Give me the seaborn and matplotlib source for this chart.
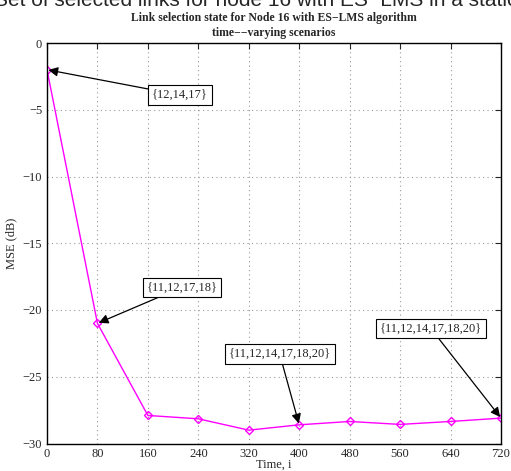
import matplotlib
matplotlib.use("Agg")
import matplotlib.pyplot as plt
import seaborn as sns
import pandas as pd

# MSE values
time_i = [0, 80, 160, 240, 320, 400, 480, 560, 640, 720]
mse_db = [-2.0, -21.0, -27.9, -28.15, -29.0, -28.6, -28.35, -28.57, -28.35, -28.1]

# annotations: label, target point, text position
ann_labels = ["{12,14,17}", "{11,12,17,18}", "{11,12,14,17,18,20}", "{11,12,14,17,18,20}"]
ann_targets = [(0, -2.0), (80, -21.0), (400, -28.6), (720, -28.1)]
ann_text_pos = [(211, -3.9), (214, -18.3), (369, -23.3), (609, -21.4)]

df = pd.DataFrame({"time": time_i, "mse": mse_db})

sns.set_style("white")
plt.rcParams['font.family'] = ['Liberation Serif', 'DejaVu Serif']

fig = plt.figure(figsize=(5.11, 4.71), dpi=100)
ax = fig.add_axes([47 / 511, 1 - 443.5 / 471, 454 / 511, 400.5 / 471])

sns.lineplot(data=df, x="time", y="mse", ax=ax, color="magenta", linewidth=1.0,
             marker="D", markersize=4.5, markerfacecolor="none",
             markeredgecolor="magenta", markeredgewidth=1.0)

ax.set_xlim(0, 720)
ax.set_ylim(-30, 0)
ax.set_xticks(time_i)
ax.set_yticks([0, -5, -10, -15, -20, -25, -30])
ax.set_yticklabels(["0", "\u22125", "\u221210", "\u221215", "\u221220", "\u221225", "\u221230"])
ax.tick_params(direction="in", top=True, right=True, labelsize=9, length=4, width=0.8)
ax.grid(True, linestyle=(0, (1, 3)), color="#999999", linewidth=0.8)
for s in ax.spines.values():
    s.set_linewidth(1.0)
    s.set_color("black")

ax.set_xlabel("Time, i", fontsize=9, labelpad=-1)
ax.set_ylabel("MSE (dB)", fontsize=9, labelpad=4)
ax.set_title("Link selection state for Node 16 with ES\u2212LMS algorithm\ntime\u2212\u2212varying scenarios",
             fontsize=8.5, fontweight="bold", pad=5, linespacing=1.3)

for lab, tgt, pos in zip(ann_labels, ann_targets, ann_text_pos):
    ax.annotate(lab, xy=tgt, xytext=pos, fontsize=9, ha="center", va="center",
                bbox=dict(boxstyle="square,pad=0.3", fc="white", ec="black", lw=0.8),
                arrowprops=dict(arrowstyle="-|>", color="black", lw=0.9,
                                mutation_scale=14, shrinkA=0, shrinkB=1))

# clipped residual heading at the very top
fig.text(-0.012, 1.0, "Set of selected links for node 16 with ES\u2212LMS in a stationary scenario",
         fontsize=15, ha="left", va="center", family=["Liberation Sans", "DejaVu Sans"])

fig.savefig("out.png", dpi=100)
